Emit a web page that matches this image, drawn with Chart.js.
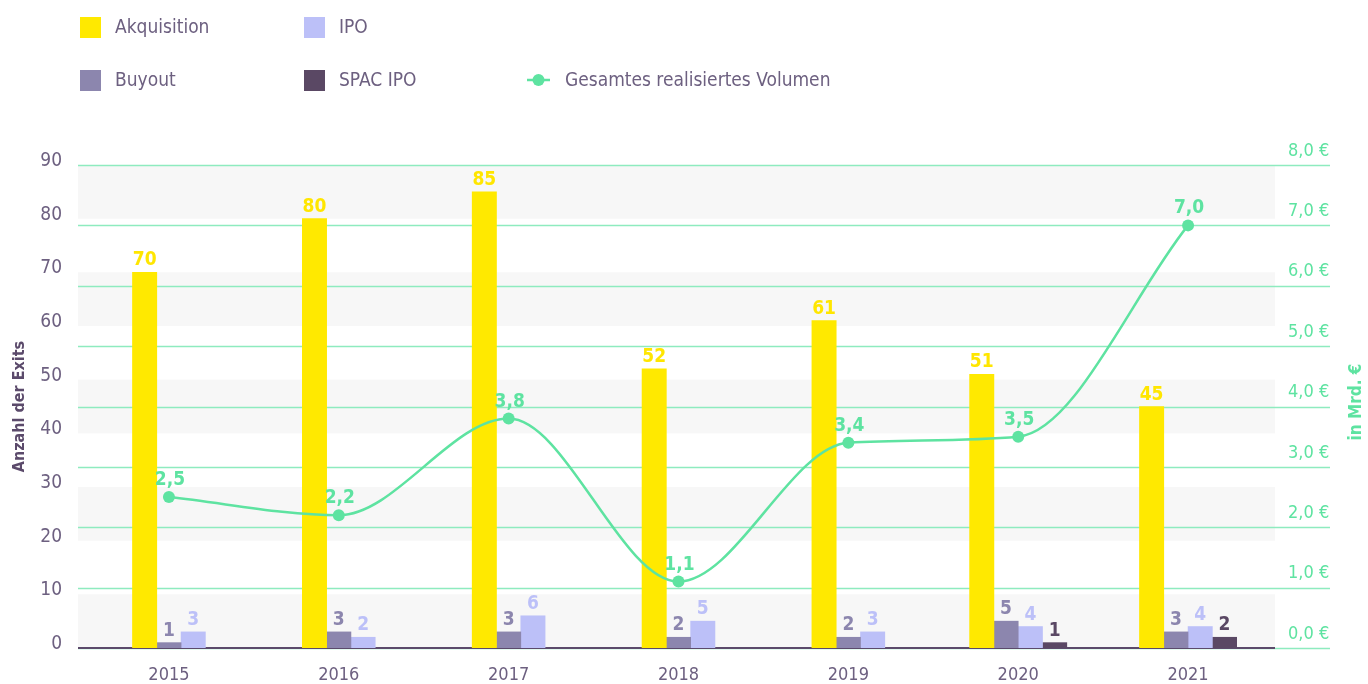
<!DOCTYPE html>
<html><head><meta charset="utf-8">
<script src="https://cdn.jsdelivr.net/npm/chart.js@4.4.0/dist/chart.umd.min.js"></script>
<style>html,body{margin:0;padding:0;background:#fff;}#wrap{position:relative;width:1368px;height:684px;}</style>
</head><body><div id="wrap"><canvas id="c" width="1368" height="684"></canvas></div>
<script>
const years = ['2015','2016','2017','2018','2019','2020','2021'];
const akquisition = [70, 80, 85, 52, 61, 51, 45];
const buyout = [1, 3, 3, 2, 2, 5, 3];
const ipo = [3, 2, 6, 5, 3, 4, 4];
const spacIpo = [null, null, null, null, null, 1, 2];
const volumen = [2.5, 2.2, 3.8, 1.1, 3.4, 3.5, 7.0];
const leftTickLabels = ['0','10','20','30','40','50','60','70','80','90'];
const rightTickLabels = ['0,0 €','1,0 €','2,0 €','3,0 €','4,0 €','5,0 €','6,0 €','7,0 €','8,0 €'];

const FONT = '"DejaVu Sans Condensed", "DejaVu Sans", sans-serif';
const AXIS_COLOR = '#6d6080';
const GREEN = '#5ee3a1';
const GRID_GREEN = '#8eebbf';
const BAND = '#f7f7f7';
const BASE = '#5b4a6b';

const labelColors = ['#ffe600', '#8c86ae', '#bcc0f8', '#5a4864', '#5ee3a1'];

const bandsPlugin = {
  id: 'bands',
  beforeDatasetsDraw(chart) {
    const {ctx, chartArea, scales} = chart;
    const y = scales.y, y1 = scales.y1;
    ctx.save();
    ctx.fillStyle = BAND;
    for (let v = 0; v < 90; v += 20) {
      const top = y.getPixelForValue(v + 10), bot = y.getPixelForValue(v);
      ctx.fillRect(chartArea.left - 6, top, chartArea.right + 2 - (chartArea.left - 6), bot - top);
    }
    ctx.strokeStyle = GRID_GREEN;
    ctx.lineWidth = 1.5;
    y1.ticks.forEach(t => {
      const py = Math.round(y1.getPixelForValue(t.value)) + 0.5;
      ctx.beginPath();
      ctx.moveTo(chartArea.left - 6, py);
      ctx.lineTo(1330, py);
      ctx.stroke();
    });
    const by = y.getPixelForValue(0);
    ctx.strokeStyle = BASE;
    ctx.lineWidth = 2;
    ctx.beginPath();
    ctx.moveTo(chartArea.left - 6, by);
    ctx.lineTo(chartArea.right + 2, by);
    ctx.stroke();
    ctx.restore();
  }
};

const valueLabelsPlugin = {
  id: 'valueLabels',
  afterDatasetsDraw(chart) {
    const ctx = chart.ctx;
    ctx.save();
    ctx.textAlign = 'center';
    ctx.textBaseline = 'alphabetic';
    chart.data.datasets.forEach((ds, i) => {
      const meta = chart.getDatasetMeta(i);
      meta.data.forEach((el, j) => {
        const v = ds.data[j];
        if (v === null || v === undefined) return;
        ctx.fillStyle = labelColors[i];
        ctx.font = 'bold 19px ' + FONT;
        if (ds.type === 'line') {
          ctx.fillText(v.toFixed(1).replace('.', ','), el.x + 1, el.y - 12);
        } else {
          ctx.fillText(String(v), el.x, el.y - 7);
        }
      });
    });
    ctx.restore();
  }
};

const legendPlugin = {
  id: 'customLegend',
  afterDraw(chart) {
    const ctx = chart.ctx;
    const ds = chart.data.datasets;
    const slots = [
      {i: 0, x: 80, y: 27},
      {i: 2, x: 304, y: 27},
      {i: 1, x: 80, y: 80},
      {i: 3, x: 304, y: 80},
      {i: 4, x: 527, y: 80}
    ];
    ctx.save();
    ctx.font = '19px ' + FONT;
    ctx.textBaseline = 'middle';
    ctx.textAlign = 'left';
    slots.forEach(s => {
      const d = ds[s.i];
      if (d.type === 'line') {
        ctx.strokeStyle = d.borderColor;
        ctx.lineWidth = 2.5;
        ctx.beginPath(); ctx.moveTo(s.x, s.y); ctx.lineTo(s.x + 23, s.y); ctx.stroke();
        ctx.fillStyle = d.borderColor;
        ctx.beginPath(); ctx.arc(s.x + 11.5, s.y, 6, 0, Math.PI * 2); ctx.fill();
        ctx.fillStyle = AXIS_COLOR;
        ctx.fillText(d.label, s.x + 38, s.y + 1);
      } else {
        ctx.fillStyle = d.backgroundColor;
        ctx.fillRect(s.x, s.y - 10, 21, 21);
        ctx.fillStyle = AXIS_COLOR;
        ctx.fillText(d.label, s.x + 35, s.y + 1);
      }
    });
    ctx.save();
    ctx.translate(1357, 402);
    ctx.rotate(-Math.PI / 2);
    ctx.textAlign = 'center';
    ctx.textBaseline = 'middle';
    ctx.fillStyle = GREEN;
    ctx.font = 'bold 17px ' + FONT;
    ctx.fillText('in Mrd. €', 0, 0);
    ctx.restore();
    ctx.restore();
  }
};

new Chart(document.getElementById('c'), {
  data: {
    labels: years,
    datasets: [
      {type: 'bar', label: 'Akquisition', data: akquisition, backgroundColor: '#ffe900', yAxisID: 'y', order: 1},
      {type: 'bar', label: 'Buyout', data: buyout, backgroundColor: '#8c86ae', yAxisID: 'y', order: 1},
      {type: 'bar', label: 'IPO', data: ipo, backgroundColor: '#bcc0f8', yAxisID: 'y', order: 1},
      {type: 'bar', label: 'SPAC IPO', data: spacIpo, backgroundColor: '#5a4864', yAxisID: 'y', order: 1},
      {type: 'line', label: 'Gesamtes realisiertes Volumen', data: volumen, yAxisID: 'y1', order: 0,
       borderColor: GREEN, backgroundColor: GREEN, borderWidth: 2.5, pointRadius: 6, pointBorderWidth: 0,
       pointBackgroundColor: GREEN, cubicInterpolationMode: 'monotone', fill: false}
    ]
  },
  options: {
    responsive: false,
    animation: false,
    devicePixelRatio: 1,
    datasets: { bar: { barThickness: 24.3, skipNull: true, borderWidth: 0 } },
    layout: { padding: { top: 165, left: 0, right: 0, bottom: 0 } },
    plugins: { legend: { display: false }, tooltip: { enabled: false } },
    scales: {
      x: {
        grid: { display: false, drawTicks: false },
        border: { display: false },
        ticks: { color: AXIS_COLOR, font: { family: FONT, size: 18 }, padding: 17 },
        afterFit(s) { s.height = 36; }
      },
      y: {
        position: 'left', min: 0, max: 90,
        grid: { display: false, drawTicks: false },
        border: { display: false },
        ticks: { stepSize: 10, padding: 22, labelOffset: -4, color: AXIS_COLOR,
                 font: { family: FONT, size: 19 },
                 callback: (v, i) => leftTickLabels[i] },
        title: { display: true, text: 'Anzahl der Exits', color: BASE,
                 font: { family: FONT, size: 16, weight: 'bold' }, padding: { top: 10, bottom: 0 } },
        afterFit(s) { s.width = 84; }
      },
      y1: {
        position: 'right', min: 0, max: 8,
        grid: { display: false, drawTicks: false },
        border: { display: false },
        ticks: { stepSize: 1, crossAlign: 'near', padding: 15, labelOffset: -14, color: GREEN,
                 font: { family: FONT, size: 18 },
                 callback: (v, i) => rightTickLabels[i] },
        afterFit(s) { s.width = 95; }
      }
    }
  },
  plugins: [bandsPlugin, valueLabelsPlugin, legendPlugin]
});
</script></body></html>
